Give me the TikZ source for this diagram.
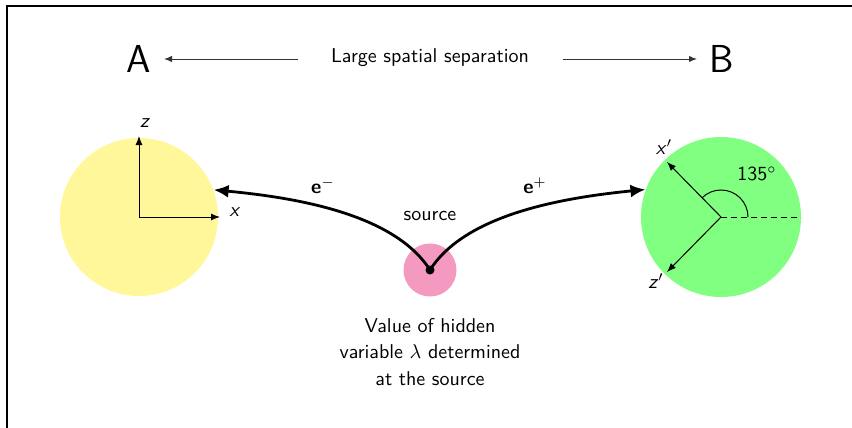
\documentclass[tikz,border=0pt]{standalone}
\usetikzlibrary{arrows.meta}
\definecolor{ballA}{RGB}{255,247,153}
\definecolor{ballB}{RGB}{128,255,128}
\definecolor{ballS}{RGB}{244,154,193}
\begin{document}
\begin{tikzpicture}[x=0.5pt,y=-0.5pt,
  every node/.style={font=\sffamily},
  ball/.style={circle,inner sep=0pt,draw=none},
  axis/.style={line width=0.5pt,-{Latex[length=4.5pt,width=3.5pt]}},
  sep/.style={line width=0.5pt,draw=black!80,-{Latex[length=4pt,width=3.2pt]}},
  particle/.style={line width=1.4pt,-{Latex[length=7.5pt,width=6.5pt]}},
  big/.style={font=\sffamily\fontsize{19.5}{23}\selectfont}]
\useasboundingbox (0,0) rectangle (852,428);
\draw[line width=0.85pt] (852,6) -- (7,6) -- (7,428);

% top row
\node[big] (A) at (139,59) {A};
\node[big] (B) at (722,59) {B};
\node (sep) at (430,58) {Large spatial separation};
\coordinate (sl) at (298,59);
\coordinate (sr) at (563,59);
\coordinate (tA) at (164,59);
\coordinate (tB) at (697,59);
\draw[sep] (sl) -- (tA);
\draw[sep] (sr) -- (tB);

% balls
\node[ball,fill=ballA,minimum size=158pt*0.5] (ya) at (139,217) {};
\node[ball,fill=ballB,minimum size=160pt*0.5] (gb) at (721,217) {};
\node[ball,fill=ballS,minimum size=53pt*0.5] (ps) at (430,270) {};
\node[circle,fill=black,inner sep=0pt,minimum size=4.5pt] (dot) at (430,270) {};

% axes at A
\coordinate (zA) at (139,136);
\coordinate (xA) at (220,217);
\draw[axis] (ya.center) -- (zA);
\draw[axis] (ya.center) -- (xA);
\node (zlab) at (145,123) {\textit{z}};
\node (xlab) at (235,212) {\textit{x}};

% axes at B
\coordinate (xB) at (667,162);
\coordinate (zB) at (667,272);
\coordinate (dB) at (801,217);
\draw[axis] (gb.center) -- (xB);
\draw[axis] (gb.center) -- (zB);
\draw[line width=0.5pt,dashed,dash pattern=on 3pt off 2pt] (gb.center) -- (dB);
\draw[line width=0.5pt] (748,217) arc[start angle=0,end angle=-135,radius=27];
\node (xplab) at (664,147) {\textit{x}$'$};
\node (zplab) at (656,281) {\textit{z}$'$};
\node (ang) at (757,174) {135$^\circ$};

% particles
\draw[particle] (dot.center) .. controls (395,215) and (300,198) .. (ya.20);
\draw[particle] (dot.center) .. controls (465,215) and (560,198) .. (gb.160);
\node (em) at (323,186) {\textbf{e}$^-$};
\node (ep) at (535,186) {\textbf{e}$^+$};
\node (src) at (430,216) {source};
\node[align=center,execute at begin node={\setlength{\baselineskip}{13.25pt}}] (txt) at (430,352)
  {Value of hidden\\variable $\lambda$ determined\\at the source};
\end{tikzpicture}
\end{document}
